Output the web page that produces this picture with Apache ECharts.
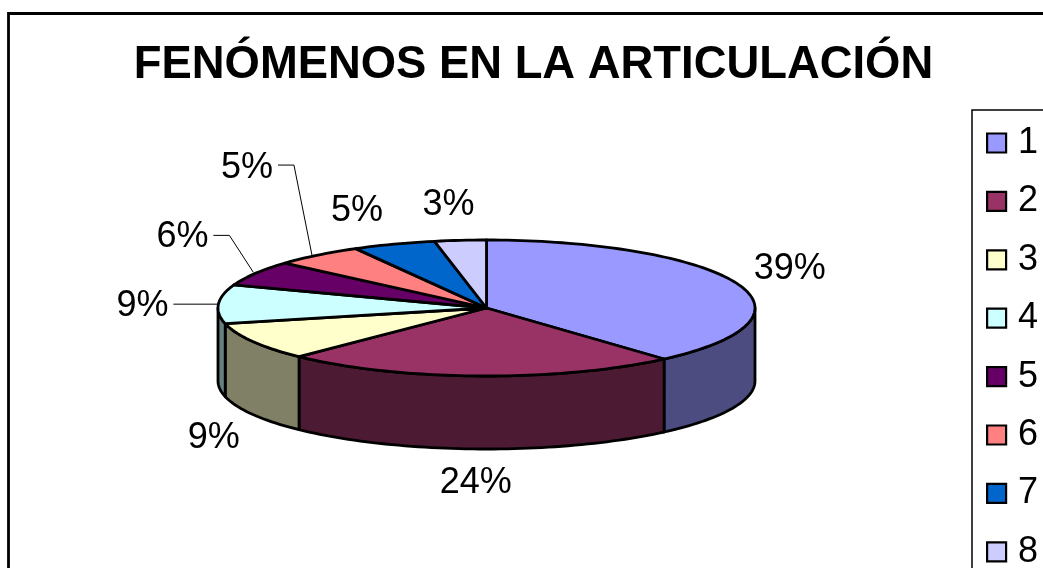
<!DOCTYPE html>
<html>
<head>
<meta charset="utf-8">
<style>
html,body{margin:0;padding:0;width:1043px;height:568px;overflow:hidden;background:#fff}
#c{width:1100px;height:640px}
</style>
<script src="https://cdn.jsdelivr.net/npm/echarts@6/dist/echarts.min.js"></script>
</head>
<body>
<div id="c"></div>
<script>
const titleText = 'FENÓMENOS EN LA ARTICULACIÓN';
const categories = ['1','2','3','4','5','6','7','8'];
const values = [38.5,23.8,9.0,9.2,6.0,5.4,5.0,3.1];
const topColors = ['#9999FF','#993366','#FFFFCC','#CCFFFF','#660066','#FF8080','#0066CC','#CCCCFF'];
const sideColors = ['#4C4C80','#4D1A33','#808066','#668080','#330033','#804040','#003366','#666680'];

// layout only: label offsets and leader points, relative to each slice's rim midpoint
const labelOffsets = [[52,-15],[-4,107],[-39,97],[-76,2],[-73,-36],[-71,-87],[-37,-33],[-12,-35]];
const leaderPoints = [[],[],[],[[0,0],[-45,0]],[[-2,-1],[-26,-38],[-42,-38]],[[-6,0],[-24,-90],[-40,-90]],[],[]];
const PIE = {cx:486.5, cy:308, rx:268.5, ry:68, depth:73};

const total = values.reduce((a,b)=>a+b,0);
function rim(deg){
  const t = deg*Math.PI/180;
  return [PIE.cx+PIE.rx*Math.sin(t), PIE.cy-PIE.ry*Math.cos(t)];
}
function arc(a0,a1){
  const pts=[]; const n=Math.max(2,Math.ceil((a1-a0)/1.5));
  for(let i=0;i<=n;i++) pts.push(rim(a0+(a1-a0)*i/n));
  return pts;
}
const edge = {stroke:'#000', lineWidth:2.8, lineJoin:'round'};

const chart = echarts.init(document.getElementById('c'),null,{renderer:'canvas'});
const series = categories.map((name,idx)=>{
  const start = values.slice(0,idx).reduce((a,b)=>a+b,0);
  return {
    type:'custom', name, coordinateSystem:'none', silent:true, animation:false,
    itemStyle:{color:topColors[idx]},
    z:2+idx,
    data:[[values[idx]]],
    renderItem(params,api){
      const v = api.value(0);
      const a0 = start/total*360, a1 = (start+v)/total*360, mid=(a0+a1)/2;
      const children=[];
      const s0=Math.max(a0,90), s1=Math.min(a1,270);
      if(s1>s0){
        const front=arc(s0,s1);
        const back=front.map(p=>[p[0],p[1]+PIE.depth]).reverse();
        children.push({type:'polygon',shape:{points:front.concat(back)},style:Object.assign({fill:sideColors[idx]},edge)});
      }
      children.push({type:'polygon',shape:{points:[[PIE.cx,PIE.cy]].concat(arc(a0,a1))},style:Object.assign({fill:topColors[idx]},edge)});
      const m=rim(mid);
      if(leaderPoints[idx].length){
        const pts=leaderPoints[idx].map(o=>[m[0]+o[0],m[1]+o[1]]);
        children.push({type:'polyline',shape:{points:pts},style:{stroke:'#000',lineWidth:1,fill:null}});
      }
      children.push({type:'text',style:{
        x:m[0]+labelOffsets[idx][0], y:m[1]+labelOffsets[idx][1],
        text:Math.round(v/total*100)+'%',
        fill:'#000', font:'36px "Liberation Sans", Arial, sans-serif',
        align:'center', verticalAlign:'middle'
      }});
      return {type:'group',children};
    }
  };
});

chart.setOption({
  animation:false,
  backgroundColor:'#fff',
  graphic:[{type:'rect',z:0,silent:true,shape:{x:8.5,y:13.5,width:1200,height:800},style:{fill:'#fff',stroke:'#000',lineWidth:2.8}}],
  title:{text:titleText,left:533.5,top:42.5,textAlign:'center',padding:0,
    textStyle:{fontFamily:'"Liberation Sans", Arial, sans-serif',fontWeight:'bold',fontSize:45.4,color:'#000'}},
  legend:{
    orient:'vertical',left:972,top:110,data:categories,selectedMode:false,
    icon:'rect',itemWidth:19,itemHeight:19,itemGap:22.4,align:'left',
    padding:[15,60,15,14],
    backgroundColor:'#fff',borderColor:'#000',borderWidth:1.5,
    itemStyle:{borderColor:'#000',borderWidth:2.2},
    textStyle:{fontFamily:'"Liberation Sans", Arial, sans-serif',fontSize:36,color:'#000',lineHeight:36,padding:[-10,0,0,7]}
  },
  series
});
</script>
</body>
</html>
